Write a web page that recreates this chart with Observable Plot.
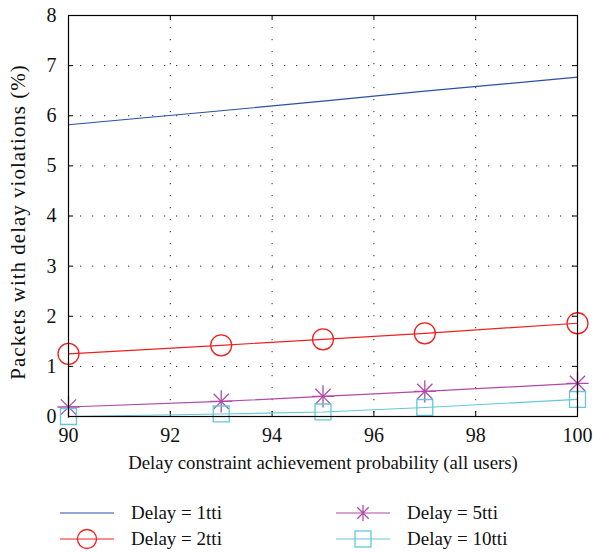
<!DOCTYPE html>
<html>
<head>
<meta charset="utf-8">
<script src="https://cdn.jsdelivr.net/npm/d3@7"></script>
<script src="https://cdn.jsdelivr.net/npm/@observablehq/plot@0.6"></script>
<style>
  body { margin: 0; background: #fff; font-family: "Liberation Serif", "DejaVu Serif", serif; }
  #wrap { position: relative; width: 593px; height: 553px; }
  #legend { position: absolute; left: 0; top: 496px; width: 593px; height: 57px; font-size: 19px; color: #111; }
  .item { position: absolute; display: flex; align-items: center; height: 24px; }
  .item svg { margin-right: 17px; }
</style>
</head>
<body>
<div id="wrap">
  <div id="chart"></div>
  <div id="legend"></div>
</div>
<script>
// ---- data ----
const xValues = [90, 93, 95, 97, 100];
const delay1tti = [5.82, 6.10, 6.29, 6.49, 6.77];
const delay2tti = [1.25, 1.42, 1.54, 1.66, 1.86];
const delay5tti = [0.19, 0.30, 0.40, 0.50, 0.66];
const delay10tti = [0.0, 0.05, 0.09, 0.18, 0.34];
const seriesNames = ["Delay = 1tti", "Delay = 2tti", "Delay = 5tti", "Delay = 10tti"];
const seriesColors = ["#2d4ea8", "#f02020", "#b04aa6", "#66c8d6"];
const xTicks = [90, 92, 94, 96, 98, 100];
const yTicks = [0, 1, 2, 3, 4, 5, 6, 7, 8];
const xTitle = "Delay constraint achievement probability (all users)";
const yTitle = "Packets with delay violations (%)";

const allSeries = [delay1tti, delay2tti, delay5tti, delay10tti];
const rows = [];
allSeries.forEach((vals, i) => vals.forEach((v, j) => rows.push({x: xValues[j], y: v, s: seriesNames[i]})));
const ser = (i) => rows.filter(d => d.s === seriesNames[i]);

const font = '"Liberation Serif", "DejaVu Serif", serif';
const tk = 0.1; // inward tick length in data units (≈5px)

const chart = Plot.plot({
  width: 593,
  height: 496,
  marginTop: 15,
  marginLeft: 68,
  marginRight: 16,
  marginBottom: 80,
  style: {fontFamily: font, fontSize: "20px", color: "#111", background: "#fff"},
  x: {domain: [90, 100], ticks: xTicks, label: null},
  y: {domain: [0, 8], ticks: yTicks, label: null},
  color: {domain: seriesNames, range: seriesColors},
  marks: [
    Plot.gridX(xTicks.slice(1, -1), {stroke: "#000", strokeOpacity: 0.85, strokeDasharray: "1.2,10.8"}),
    Plot.gridY(yTicks.slice(1, -1), {stroke: "#000", strokeOpacity: 0.85, strokeDasharray: "1.2,10.8"}),
    // inward ticks
    Plot.ruleX(xTicks, {x: d => d, y1: 0, y2: tk, stroke: "#000"}),
    Plot.ruleX(xTicks, {x: d => d, y1: 8, y2: 8 - tk, stroke: "#000"}),
    Plot.ruleY(yTicks, {y: d => d, x1: 90, x2: 90 + tk, stroke: "#000"}),
    Plot.ruleY(yTicks, {y: d => d, x1: 100, x2: 100 - tk, stroke: "#000"}),
    Plot.axisX({ticks: xTicks, tickSize: 0, tickPadding: 11, fontSize: 20, label: null}),
    Plot.axisY({ticks: yTicks, tickSize: 0, tickPadding: 12, fontSize: 20, label: null}),
    Plot.text([xTitle], {frameAnchor: "bottom", dy: 52, fontSize: 18.8, fill: "#111"}),
    Plot.text([yTitle], {frameAnchor: "left", textAnchor: "middle", dx: -50, dy: 6, rotate: -90, fontSize: 21, fill: "#111"}),
    Plot.line(rows, {x: "x", y: "y", z: "s", stroke: "s", strokeWidth: 1.2}),
    Plot.dot(ser(1), {x: "x", y: "y", r: 10.5, stroke: "s", fill: "none", strokeWidth: 1.3}),
    Plot.dot(ser(2), {x: "x", y: "y", r: 7.2, symbol: "plus", stroke: "s", strokeWidth: 1.3}),
    Plot.dot(ser(2), {x: "x", y: "y", r: 7.0, symbol: "times", stroke: "s", strokeWidth: 1.3}),
    Plot.dot(ser(3), {x: "x", y: "y", r: 9.0, symbol: "square", stroke: "s", fill: "none", strokeWidth: 1.3}),
    Plot.frame({stroke: "#000", strokeWidth: 1.2})
  ]
});
d3.select(chart).selectAll("text").filter(function() { return this.textContent === yTitle; }).attr("letter-spacing", "1");
document.getElementById("chart").appendChild(chart);

// ---- legend ----
const legendPos = [
  {left: 60, top: 5}, {left: 60, top: 31}, {left: 336, top: 5}, {left: 336, top: 31}
];
const legendMarkers = [
  "",
  '<circle cx="27" cy="12" r="9.5" fill="none" stroke="COL" stroke-width="1.3"/>',
  '<path d="M27,4V20M21.3,6.3L32.7,17.7M21.3,17.7L32.7,6.3" stroke="COL" stroke-width="1.3"/>',
  '<rect x="19" y="4" width="16" height="16" fill="none" stroke="COL" stroke-width="1.3"/>'
];
const legend = document.getElementById("legend");
seriesNames.forEach((name, i) => {
  const c = seriesColors[i];
  const div = document.createElement("div");
  div.className = "item";
  div.style.left = legendPos[i].left + "px";
  div.style.top = legendPos[i].top + "px";
  div.innerHTML = `<svg width="54" height="24"><line x1="0" x2="54" y1="12" y2="12" stroke="${c}" stroke-width="1.2"/>${legendMarkers[i].replace(/COL/g, c)}</svg><span>${name}</span>`;
  legend.appendChild(div);
});
</script>
</body>
</html>
